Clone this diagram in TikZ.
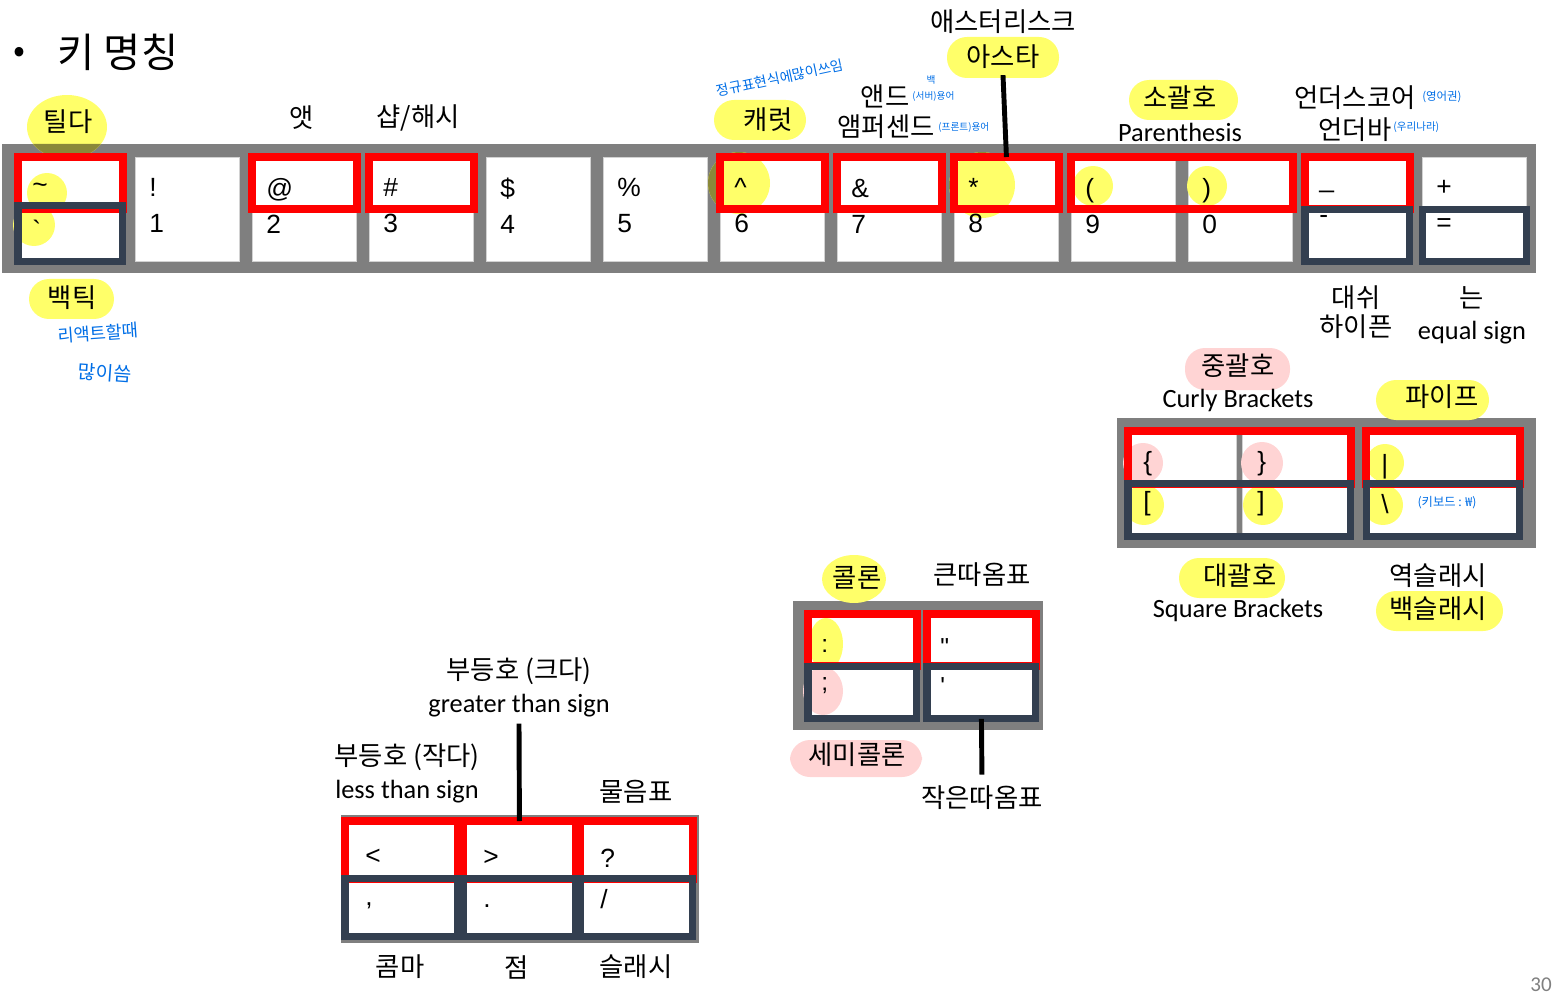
\documentclass[tikz,border=0pt]{standalone}
\usepackage{fontspec}
\setmainfont{Noto Sans CJK KR}
\newfontfamily\enfont{Carlito}
\newfontfamily\keyfont{Liberation Sans}
\definecolor{panelgray}{RGB}{127,127,127}
\definecolor{keynavy}{RGB}{51,63,80}
\definecolor{hlyellow}{RGB}{255,255,105}
\definecolor{hlolive}{RGB}{138,136,58}
\definecolor{hlpink}{RGB}{255,212,212}
\definecolor{handblue}{RGB}{0,110,230}

\begin{document}
\begin{tikzpicture}[x=0.02cm, y=-0.02cm,
  panel/.style={fill=panelgray},
  key/.style={draw=gray!35, line width=0.5pt, fill=white, anchor=north west,
    inner sep=0pt, minimum width=2.08cm, minimum height=2.08cm},
  keych/.style={inner sep=0pt, align=left, text width=1.52cm,
    font=\keyfont\fontsize{15}{20.5}\selectfont},
  redframe/.style={draw=red, line width=4.5pt},
  navyframe/.style={draw=keynavy, line width=4pt},
  lbl/.style={font=\fontsize{15}{18}\selectfont},
  en/.style={font=\enfont\fontsize{15}{18}\selectfont},
  hand/.style={text=handblue, inner sep=0pt, font=\fontsize{8}{9}\selectfont},
  hly/.style={fill=hlyellow, rounded corners=0.4cm},
  hlp/.style={fill=hlpink, rounded corners=0.4cm},
  callout/.style={draw=black, line width=2.8pt}]
  \useasboundingbox (0,0) rectangle (1559,1000);

  \fill[panel] (2,144) rectangle (1536,273);
  \node (k0) [key] at (18,157) {};
  \node (k1) [key] at (135,157) {};
  \node (k2) [key] at (252,157) {};
  \node (k3) [key] at (369,157) {};
  \node (k4) [key] at (486,157) {};
  \node (k5) [key] at (603,157) {};
  \node (k6) [key] at (720,157) {};
  \node (k7) [key] at (837,157) {};
  \node (k8) [key] at (954,157) {};
  \node (k9) [key] at (1071,157) {};
  \node (k10) [key] at (1188,157) {};
  \node (k11) [key] at (1305,157) {};
  \node (k12) [key] at (1422,157) {};

  \fill[panel] (1117,418) rectangle (1536,548);
  \node (klb) [key, minimum width=2.16cm, minimum height=2.1cm] at (1128,431) {};
  \node (krb) [key, minimum width=2.16cm, minimum height=2.1cm] at (1242,431) {};
  \node (kbs) [key, minimum width=3.06cm, minimum height=2.1cm] at (1366,431) {};

  \fill[panel] (793,601) rectangle (1043,730);
  \node (kcol) [key, minimum width=2.16cm] at (808,614) {};
  \node (kq) [key, minimum width=2.16cm] at (927,614) {};

  \fill[panel] (341,815) rectangle (699,943);
  \node (klt) [key, minimum width=2.24cm, minimum height=2.3cm] at (345,821) {};
  \node (kgt) [key, minimum width=2.24cm, minimum height=2.3cm] at (463,821) {};
  \node (kqm) [key, minimum width=2.24cm, minimum height=2.3cm] at (580,821) {};

  \fill[hly] (67,127) ellipse [x radius=0.8cm, y radius=0.64cm];
  \fill[hly] (47,193) circle [radius=0.4cm];
  \fill[hly] (34,225) circle [radius=0.42cm];
  \fill[hly] (29,279) rectangle (114,319);
  \fill[hly] (714,100) rectangle (806,140);
  \fill[hly] (739,183) circle [radius=0.62cm];
  \fill[hly] (947,37) rectangle (1059,78);
  \fill[hly] (982,185) circle [radius=0.66cm];
  \fill[hly] (1093,186) circle [radius=0.4cm];
  \fill[hly] (1207,186) circle [radius=0.4cm];
  \fill[hly] (1129,80) rectangle (1238,120);
  \fill[hly] (1376,380) rectangle (1489,420);
  \fill[hly] (1144,505) circle [radius=0.4cm];
  \fill[hly] (1263,505) circle [radius=0.4cm];
  \fill[hly] (1385,463) circle [radius=0.38cm];
  \fill[hly] (1383,505) circle [radius=0.4cm];
  \fill[hly] (1179,558) rectangle (1285,598);
  \fill[hly] (1376,591) rectangle (1503,631);
  \fill[hly] (854,579) ellipse [x radius=0.64cm, y radius=0.48cm];
  \fill[hly] (826,644) ellipse [x radius=0.34cm, y radius=0.52cm];
  \fill[hlp] (1185,348) rectangle (1290,390);
  \fill[hlp] (1143,463) circle [radius=0.4cm];
  \fill[hlp] (1262,463) circle [radius=0.42cm];
  \fill[hlp] (790,740) rectangle (922,777);
  \fill[hlp] (823,691) ellipse [x radius=0.4cm, y radius=0.48cm];
  \begin{scope}[even odd rule]
    \clip (2,144) rectangle (1536,273)
      (k0.north west) rectangle (k0.south east)
      (k6.north west) rectangle (k6.south east)
      (k8.north west) rectangle (k8.south east);
    \fill[hlolive] (67,127) ellipse [x radius=0.8cm, y radius=0.64cm];
    \fill[hlolive] (739,183) circle [radius=0.62cm];
    \fill[hlolive] (982,185) circle [radius=0.66cm];
  \end{scope}

  \draw[redframe] (k0.north west) rectangle (k0.east);
  \draw[navyframe] ([yshift=2pt]k0.west) rectangle (k0.south east);
  \draw[redframe] (k2.north west) rectangle (k2.east);
  \draw[redframe] (k3.north west) rectangle (k3.east);
  \draw[redframe] (k6.north west) rectangle (k6.east);
  \draw[redframe] (k7.north west) rectangle (k7.east);
  \draw[redframe] (k8.north west) rectangle (k8.east);
  \draw[redframe] (k9.north west) rectangle (k10.east);
  \draw[redframe] (k11.north west) rectangle (k11.east);
  \draw[navyframe] (k11.west) rectangle (k11.south east);
  \draw[navyframe] (k12.west) rectangle (k12.south east);
  \draw[redframe] (klb.north west) rectangle (krb.east);
  \draw[navyframe] (klb.west) rectangle (krb.south east);
  \draw[redframe] (kbs.north west) rectangle (kbs.east);
  \draw[navyframe] (kbs.west) rectangle (kbs.south east);
  \draw[redframe] (kcol.north west) rectangle (kcol.east);
  \draw[navyframe] (kcol.west) rectangle (kcol.south east);
  \draw[redframe] (kq.north west) rectangle (kq.east);
  \draw[navyframe] (kq.west) rectangle (kq.south east);
  \draw[redframe] (klt.north west) rectangle (klt.east);
  \draw[navyframe] (klt.west) rectangle (klt.south east);
  \draw[redframe] (kgt.north west) rectangle (kgt.east);
  \draw[navyframe] (kgt.west) rectangle (kgt.south east);
  \draw[redframe] (kqm.north west) rectangle (kqm.east);
  \draw[navyframe] (kqm.west) rectangle (kqm.south east);

  \node (c0) [keych] at ([yshift=2pt]k0) {\symbol{"7E}\\\smash{\raisebox{-6pt}{\symbol{"60}}}};
  \node (c1) [keych] at ([yshift=2pt]k1) {!\\1};
  \node (c2) [keych] at ([yshift=2pt]k2) {@\\2};
  \node (c3) [keych] at ([yshift=2pt]k3) {\#\\3};
  \node (c4) [keych] at ([yshift=2pt]k4) {\$\\4};
  \node (c5) [keych] at ([yshift=2pt]k5) {\%\\5};
  \node (c6) [keych] at ([yshift=2pt]k6) {\symbol{"5E}\\6};
  \node (c7) [keych] at ([yshift=2pt]k7) {\&\\7};
  \node (c8) [keych] at ([yshift=2pt]k8) {*\\8};
  \node (c9) [keych] at ([yshift=2pt]k9) {(\\9};
  \node (c10) [keych] at ([yshift=2pt]k10) {)\\0};
  \node (c11) [keych] at ([yshift=2pt]k11) {\_\\-};
  \node (c12) [keych] at ([yshift=2pt]k12) {+\\=};
  \node (clb) [keych, text width=1.56cm, font=\keyfont\fontsize{15}{22.7}\selectfont] at (klb) {\{\\{}[};
  \node (crb) [keych, text width=1.56cm, font=\keyfont\fontsize{15}{22.7}\selectfont] at (krb) {\}\\{}]};
  \node (cbs) [keych, text width=2.46cm, font=\keyfont\fontsize{15}{22.7}\selectfont] at (kbs) {|\\\textbackslash};
  \node (ccol) [keych, text width=1.64cm, font=\keyfont\fontsize{14}{22}\selectfont] at (kcol) {:\\;};
  \node (cq) [keych, text width=1.64cm, font=\keyfont\fontsize{14}{22}\selectfont] at (kq) {\symbol{"22}\\\symbol{"27}};
  \node (clt) [keych, text width=1.44cm, font=\keyfont\fontsize{15}{23.8}\selectfont] at (klt) {<\\,};
  \node (cgt) [keych, text width=1.44cm, font=\keyfont\fontsize{15}{23.8}\selectfont] at (kgt) {>\\.};
  \node (cqm) [keych, text width=1.44cm, font=\keyfont\fontsize{15}{23.8}\selectfont] at (kqm) {?\\/};

  \node (bullet) at (19,55) [font=\fontsize{20}{24}\selectfont] {•};
  \node (title) at (118,52) [font=\fontsize{23}{28}\selectfont] {키 명칭};
  \node (tilde) at (68,122) [lbl] {틸다};
  \node (at) at (302,118) [lbl] {앳};
  \node (hash) at (418,118) [lbl] {샵/해시};
  \node (caret) at (768,120) [lbl] {캐럿};
  \node (regex) at (780,78) [hand, rotate=12] {정규표현식에많이쓰임};
  \node (and) at (885,96) [lbl] {앤드};
  \node (andnote) at (912,96) [hand, anchor=west, font=\fontsize{5.5}{6}\selectfont] {(서버)용어};
  \node (andback) at (931,80) [hand, font=\fontsize{5.5}{6}\selectfont] {백};
  \node (amp) at (886,127) [lbl] {앰퍼센드};
  \node (ampnote) at (938,127) [hand, anchor=west, font=\fontsize{5.5}{6}\selectfont] {(프론트)용어};
  \node (asterisk) at (1003,22) [lbl] {애스터리스크};
  \node (asta) at (1003,57) [lbl] {아스타};
  \node (paren) at (1180,98) [lbl] {소괄호};
  \node (parenen) at (1180,132) [en] {Parenthesis};
  \node (under) at (1355,98) [lbl] {언더스코어};
  \node (undernote) at (1422,97) [hand, anchor=west, font=\fontsize{6.5}{7}\selectfont] {(영어권)};
  \node (underbar) at (1355,130) [lbl] {언더바};
  \node (barnote) at (1393,127) [hand, anchor=west, font=\fontsize{6}{7}\selectfont] {(우리나라)};
  \node (dash) at (1356,298) [lbl] {대쉬};
  \node (hyphen) at (1356,327) [lbl] {하이픈};
  \node (eqkr) at (1472,298) [lbl] {는};
  \node (eqen) at (1472,333) [en] {equal sign};
  \node (backtick) at (72,298) [lbl] {백틱};
  \node (reactnote) at (98,333) [hand, rotate=4, font=\fontsize{10}{11}\selectfont] {리액트할때};
  \node (reactnote2) at (105,373) [hand, rotate=-4, font=\fontsize{11}{12}\selectfont] {많이씀};

  \node (curly) at (1238,366) [lbl] {중괄호};
  \node (curlyen) at (1238,400) [en] {Curly Brackets};
  \node (pipe) at (1442,397) [lbl] {파이프};
  \node (square) at (1240,576) [lbl] {대괄호};
  \node (squareen) at (1238,610) [en] {Square Brackets};
  \node (bslash) at (1438,576) [lbl] {역슬래시};
  \node (bslash2) at (1438,609) [lbl] {백슬래시};
  \node (wonnote) at (1447,503) [hand, font=\fontsize{7}{8}\selectfont] {(키보드 : ₩)};

  \node (colon) at (857,578) [lbl] {콜론};
  \node (dquote) at (982,575) [lbl] {큰따옴표};
  \node (semi) at (857,755) [lbl] {세미콜론};
  \node (squote) at (982,798) [lbl] {작은따옴표};

  \node (gtkr) at (519,671) [lbl] {부등호 (크다)};
  \node (gten) at (519,706) [en] {greater than sign};
  \node (ltkr) at (407,757) [lbl] {부등호 (작다)};
  \node (lten) at (407,792) [en] {less than sign};
  \node (qmark) at (636,792) [lbl] {물음표};
  \node (comma) at (400,967) [lbl] {콤마};
  \node (dot) at (517,967) [lbl] {점};
  \node (slash) at (636,967) [lbl] {슬래시};
  \node (page) at (1541,985) [text=gray, font=\enfont\fontsize{12}{14}\selectfont] {30};

  \draw[callout] (asta.south) -- (k8.north);
  \draw[callout] (gten.south) -- (kgt.north);
  \draw[callout, shorten >=3pt] (kq.south) -- (squote.north);
\end{tikzpicture}
\end{document}
